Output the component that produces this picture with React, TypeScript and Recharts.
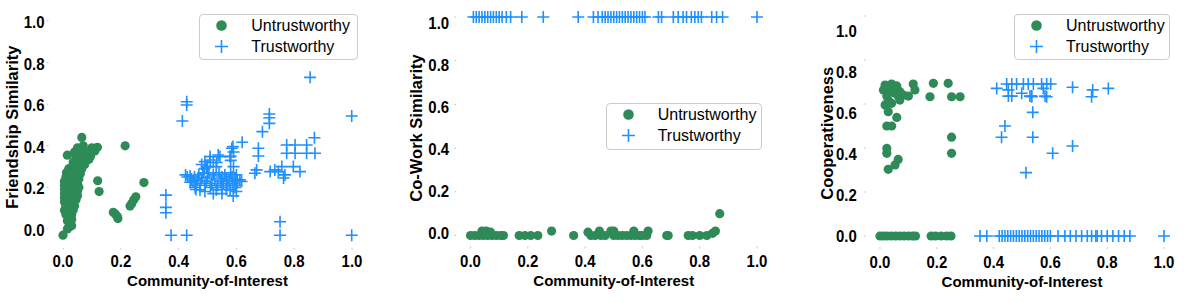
import { ScatterChart, Scatter, XAxis, YAxis, Legend } from "recharts";

const FONT = '"Liberation Sans", Arial, Helvetica, sans-serif';
const GREEN = "#2e8b57";
const BLUE = "#1e90ff";

const seriesNames = ["Untrustworthy", "Trustworthy"];
const axisTicks = [0, 0.2, 0.4, 0.6, 0.8, 1.0];
const xTitle = "Community-of-Interest";

// Friendship similarity vs community-of-interest
const friendshipUntrustworthy: [number, number][] = [
  [0.0, -0.03], [0.015, 0.0], [0.03, 0.015], [0.02, 0.01], [0.025, 0.03], [0.015, 0.04],
  [0.03, 0.045], [0.02, 0.06], [0.01, 0.07], [0.03, 0.07], [0.005, 0.09], [0.02, 0.09],
  [0.035, 0.09], [0.01, 0.11], [0.025, 0.11], [0.04, 0.11], [0.005, 0.13], [0.02, 0.13],
  [0.035, 0.13], [0.045, 0.14], [0.005, 0.15], [0.02, 0.15], [0.035, 0.155], [0.05, 0.16],
  [0.005, 0.17], [0.02, 0.17], [0.035, 0.175], [0.05, 0.18], [0.005, 0.19], [0.02, 0.19],
  [0.04, 0.195], [0.055, 0.2], [0.005, 0.21], [0.02, 0.21], [0.035, 0.215], [0.05, 0.22],
  [0.005, 0.23], [0.02, 0.235], [0.04, 0.235], [0.055, 0.24], [0.01, 0.25], [0.025, 0.255],
  [0.045, 0.26], [0.06, 0.265], [0.012, 0.27], [0.03, 0.275], [0.05, 0.28], [0.065, 0.29],
  [0.02, 0.29], [0.04, 0.3], [0.06, 0.305], [0.075, 0.31], [0.035, 0.32], [0.055, 0.325],
  [0.07, 0.33], [0.085, 0.335], [0.015, 0.355], [0.045, 0.345], [0.065, 0.35], [0.08, 0.355],
  [0.095, 0.35], [0.04, 0.37], [0.06, 0.375], [0.085, 0.37], [0.05, 0.39], [0.07, 0.4],
  [0.065, 0.44], [0.1, 0.39], [0.11, 0.375], [0.09, 0.335],
  [0.119, 0.393], [0.12, 0.232], [0.125, 0.18], [0.215, 0.4], [0.28, 0.223],
  [0.174, 0.08], [0.181, 0.072], [0.188, 0.06], [0.19, 0.05],
  [0.232, 0.11], [0.238, 0.123], [0.245, 0.14], [0.252, 0.155],
];

const friendshipTrustworthy: [number, number][] = [
  [0.428, 0.612], [0.428, 0.596], [0.413, 0.519], [0.356, 0.163], [0.356, 0.104], [0.356, 0.078],
  [0.374, -0.03], [0.428, -0.03], [0.751, 0.035], [0.751, -0.03], [0.999, -0.03], [0.999, 0.543],
  [0.714, 0.553], [0.714, 0.535], [0.714, 0.508], [0.69, 0.468], [0.87, 0.439], [0.872, 0.364],
  [0.843, 0.364], [0.843, 0.404], [0.774, 0.404], [0.803, 0.404], [0.774, 0.364], [0.803, 0.364],
  [0.62, 0.417], [0.676, 0.388], [0.676, 0.351], [0.67, 0.284], [0.664, 0.268], [0.733, 0.284],
  [0.757, 0.3], [0.797, 0.3], [0.82, 0.276], [0.768, 0.26], [0.763, 0.245], [0.745, 0.276],
  [0.717, 0.276], [0.855, 0.729],
  [0.424, 0.26], [0.43, 0.25], [0.44, 0.255], [0.445, 0.24], [0.45, 0.23], [0.455, 0.25],
  [0.44, 0.225], [0.46, 0.21], [0.457, 0.2], [0.465, 0.235], [0.47, 0.26], [0.475, 0.22],
  [0.474, 0.188], [0.48, 0.245], [0.485, 0.27], [0.49, 0.21], [0.491, 0.18], [0.495, 0.23],
  [0.5, 0.25], [0.49, 0.29], [0.491, 0.324], [0.5, 0.3], [0.505, 0.27], [0.51, 0.2],
  [0.509, 0.348], [0.515, 0.22], [0.52, 0.32], [0.52, 0.26], [0.525, 0.24], [0.53, 0.188],
  [0.53, 0.3], [0.537, 0.356], [0.535, 0.21], [0.54, 0.27], [0.545, 0.23], [0.55, 0.25],
  [0.55, 0.2], [0.555, 0.22], [0.56, 0.26], [0.565, 0.19], [0.565, 0.24], [0.57, 0.21],
  [0.575, 0.23], [0.578, 0.188], [0.58, 0.27], [0.58, 0.33], [0.584, 0.388], [0.585, 0.25],
  [0.588, 0.22], [0.589, 0.159], [0.59, 0.37], [0.59, 0.3], [0.595, 0.2], [0.595, 0.24],
  [0.6, 0.26], [0.6, 0.21], [0.603, 0.23], [0.612, 0.236], [0.618, 0.228], [0.578, 0.348],
  [0.588, 0.396], [0.543, 0.348], [0.532, 0.32], [0.509, 0.332], [0.497, 0.3], [0.484, 0.27],
  [0.55, 0.17], [0.52, 0.17], [0.46, 0.19], [0.6, 0.18], [0.58, 0.35], [0.48, 0.31],
];

// Co-work similarity vs community-of-interest
const coworkUntrustworthy: [number, number][] = [
  [0.0, 0], [0.015, 0], [0.03, 0], [0.045, 0], [0.06, 0], [0.075, 0], [0.09, 0], [0.105, 0],
  [0.115, 0], [0.04, 0.02], [0.055, 0.02], [0.07, 0.015], [0.17, 0], [0.19, 0], [0.21, 0],
  [0.235, 0], [0.283, 0.02], [0.36, 0], [0.41, 0.015], [0.42, 0], [0.435, 0], [0.45, 0.02],
  [0.455, 0], [0.47, 0], [0.49, 0.02], [0.5, 0.02], [0.5, 0], [0.515, 0], [0.53, 0],
  [0.545, 0], [0.56, 0], [0.57, 0.02], [0.575, 0], [0.59, 0], [0.6, 0], [0.615, 0],
  [0.62, 0.02], [0.685, 0], [0.69, 0], [0.76, 0], [0.775, 0], [0.8, 0], [0.825, 0],
  [0.845, 0.01], [0.855, 0.02], [0.87, 0.1],
];

const coworkTrustworthy: [number, number][] = [
  [0.01, 1], [0.02, 1], [0.03, 1], [0.04, 1], [0.05, 1], [0.06, 1], [0.07, 1], [0.08, 1],
  [0.09, 1], [0.1, 1], [0.11, 1], [0.125, 1], [0.14, 1], [0.179, 1], [0.254, 1], [0.376, 1],
  [0.429, 1], [0.445, 1], [0.46, 1], [0.47, 1], [0.48, 1], [0.49, 1], [0.5, 1], [0.51, 1],
  [0.52, 1], [0.53, 1], [0.54, 1], [0.55, 1], [0.56, 1], [0.57, 1], [0.58, 1], [0.59, 1],
  [0.6, 1], [0.609, 1], [0.656, 1], [0.667, 1], [0.708, 1], [0.725, 1], [0.742, 1], [0.754, 1],
  [0.771, 1], [0.783, 1], [0.795, 1], [0.806, 1], [0.842, 1], [0.859, 1], [0.88, 1], [1.0, 1],
];

// Cooperativeness vs community-of-interest
const coopUntrustworthy: [number, number][] = [
  [0.018, 0.686], [0.041, 0.691], [0.059, 0.682], [0.012, 0.664], [0.035, 0.656], [0.053, 0.649],
  [0.07, 0.656], [0.024, 0.636], [0.064, 0.636], [0.082, 0.641], [0.1, 0.636], [0.117, 0.691],
  [0.123, 0.664], [0.188, 0.694], [0.176, 0.633], [0.24, 0.694], [0.252, 0.633], [0.282, 0.633],
  [0.018, 0.595], [0.041, 0.603], [0.029, 0.565], [0.059, 0.539], [0.024, 0.5], [0.041, 0.5],
  [0.029, 0.618], [0.07, 0.618], [0.252, 0.449], [0.252, 0.376], [0.024, 0.398], [0.024, 0.376],
  [0.064, 0.348], [0.053, 0.323], [0.029, 0.303], [0.047, 0.67], [0.03, 0.675],
  [0.0, 0], [0.012, 0], [0.025, 0], [0.04, 0], [0.055, 0], [0.07, 0], [0.085, 0], [0.1, 0],
  [0.115, 0], [0.125, 0], [0.18, 0], [0.195, 0], [0.215, 0], [0.235, 0], [0.25, 0],
];

const coopTrustworthy: [number, number][] = [
  [0.411, 0.671], [0.446, 0.691], [0.464, 0.691], [0.481, 0.691], [0.505, 0.691], [0.522, 0.691],
  [0.54, 0.691], [0.569, 0.691], [0.587, 0.691], [0.601, 0.691], [0.452, 0.664], [0.452, 0.636],
  [0.464, 0.636], [0.499, 0.649], [0.528, 0.636], [0.534, 0.636], [0.581, 0.636], [0.575, 0.671],
  [0.538, 0.562], [0.44, 0.5], [0.428, 0.449], [0.538, 0.449], [0.608, 0.376], [0.514, 0.288],
  [0.678, 0.676], [0.678, 0.409], [0.749, 0.664], [0.745, 0.633], [0.804, 0.671], [0.587, 0.633],
  [0.534, 0.633],
  [0.352, 0], [0.376, 0], [0.42, 0], [0.43, 0], [0.44, 0], [0.45, 0], [0.46, 0], [0.47, 0],
  [0.48, 0], [0.49, 0], [0.5, 0], [0.51, 0], [0.52, 0], [0.53, 0], [0.54, 0], [0.55, 0],
  [0.56, 0], [0.57, 0], [0.58, 0], [0.59, 0], [0.6, 0], [0.627, 0], [0.651, 0], [0.67, 0],
  [0.69, 0], [0.71, 0], [0.73, 0], [0.745, 0], [0.76, 0], [0.765, 0], [0.78, 0], [0.8, 0],
  [0.82, 0], [0.84, 0], [0.86, 0], [0.88, 0], [1.0, 0],
];

const toPoints = (arr: [number, number][]) => arr.map(([x, y]) => ({ x, y }));

const Dot = (p: any) => <circle cx={p.cx} cy={p.cy} r={4.6} fill={GREEN} />;
const Plus = (p: any) => (
  <path
    d={`M${p.cx - 6},${p.cy}H${p.cx + 6}M${p.cx},${p.cy - 6}V${p.cy + 6}`}
    stroke={BLUE}
    strokeWidth={1.6}
    fill="none"
  />
);

const tickText = { fontSize: 15, fontWeight: 700, fill: "#000", fontFamily: FONT };
// the source figure is stretched a little vertically, so its glyphs run tall
const TALL = "scale(1,1.1)";

// y labels in the source figure sit slightly off their tick marks
function YTick(props: any) {
  const { x, y, payload, a, b } = props;
  return (
    <g transform={`translate(${x},${y + a + b * payload.value})`}>
      <text transform={TALL} dy="0.36em" textAnchor="end" {...tickText}>
        {payload.value.toFixed(1)}
      </text>
    </g>
  );
}

function XTick(props: any) {
  const { x, y, payload } = props;
  return (
    <g transform={`translate(${x},${y})`}>
      <text transform={TALL} dy="0.36em" textAnchor="middle" {...tickText}>
        {payload.value.toFixed(1)}
      </text>
    </g>
  );
}

function LegendBox() {
  return (
    <div
      style={{
        width: "100%",
        height: "100%",
        boxSizing: "border-box",
        border: "1px solid #cccccc",
        borderRadius: 4,
        background: "rgba(255,255,255,0.8)",
        fontFamily: FONT,
        fontSize: 16,
        color: "#000",
      }}
    >
      {seriesNames.map((name, i) => (
        <div key={name} style={{ display: "flex", alignItems: "center", height: 21 }}>
          <svg width={51} height={21} style={{ flex: "none" }}>
            {i === 0 ? (
              <circle cx={21.5} cy={10.5} r={5.3} fill={GREEN} />
            ) : (
              <path d="M15,10.5H28M21.5,4V17" stroke={BLUE} strokeWidth={1.6} />
            )}
          </svg>
          <span>{name}</span>
        </div>
      ))}
    </div>
  );
}

const tickLine = { stroke: "#c8c8c8" };
const titleStyle = { fontSize: 15, fontWeight: 700, fill: "#000", fontFamily: FONT };

interface PanelProps {
  left: number;
  width: number;
  margin: { top: number; right: number; bottom: number; left: number };
  yMin: number;
  yWidth: number;
  yTickMargin: number;
  xTickMargin: number;
  driftA: number;
  driftB: number;
  yTitle: string;
  yTitleDx: number;
  yTitleDy: number;
  xTitleDy: number;
  legend: { left: number; top: number; width: number; height: number };
  untrust: [number, number][];
  trust: [number, number][];
}

function Panel(p: PanelProps) {
  return (
    <div style={{ position: "absolute", left: p.left, top: 0 }}>
      <ScatterChart width={p.width} height={302} margin={p.margin}>
        <XAxis
          type="number"
          dataKey="x"
          domain={[-0.05, 1.05]}
          allowDataOverflow
          ticks={axisTicks}
          interval={0}
          axisLine={false}
          tickLine={tickLine}
          tickSize={2}
          tickMargin={p.xTickMargin}
          height={50}
          tick={(t: any) => <XTick {...t} />}
          label={{ value: xTitle, position: "center", dy: p.xTitleDy, ...titleStyle }}
        />
        <YAxis
          type="number"
          dataKey="y"
          domain={[p.yMin, 1.05]}
          allowDataOverflow
          ticks={axisTicks}
          interval={0}
          width={p.yWidth}
          axisLine={false}
          tickLine={tickLine}
          tickSize={2}
          tickMargin={p.yTickMargin}
          tick={(t: any) => <YTick {...t} a={p.driftA} b={p.driftB} />}
          label={{
            value: p.yTitle,
            angle: -90,
            position: "center",
            dx: p.yTitleDx,
            dy: p.yTitleDy,
            ...titleStyle,
            fontSize: 16.5,
          }}
        />
        <Scatter
          name={seriesNames[0]}
          data={toPoints(p.untrust)}
          fill={GREEN}
          shape={Dot}
          isAnimationActive={false}
        />
        <Scatter
          name={seriesNames[1]}
          data={toPoints(p.trust)}
          fill={BLUE}
          shape={Plus}
          isAnimationActive={false}
        />
        <Legend
          layout="vertical"
          align="center"
          verticalAlign="middle"
          wrapperStyle={{ ...p.legend }}
          content={() => <LegendBox />}
        />
      </ScatterChart>
    </div>
  );
}

export default function App() {
  return (
    <div
      style={{
        position: "absolute",
        left: 0,
        top: 0,
        width: 1187,
        height: 302,
        background: "#fff",
        overflow: "hidden",
      }}
    >
      <Panel
        left={0}
        width={380}
        margin={{ top: 10.6, right: 13.55, bottom: 4.3, left: 0 }}
        yMin={-0.09}
        yWidth={48.55}
        yTickMargin={2}
        xTickMargin={11.3}
        driftA={1}
        driftB={0}
        yTitle="Friendship Similarity"
        yTitleDx={-12}
        yTitleDy={-2}
        xTitleDy={8.3}
        legend={{ left: 199.3, top: 14, width: 159, height: 46 }}
        untrust={friendshipUntrustworthy}
        trust={friendshipTrustworthy}
      />
      <Panel
        left={400}
        width={380}
        margin={{ top: 6.1, right: 8.7, bottom: 5.6, left: 0 }}
        yMin={-0.05}
        yWidth={56.2}
        yTickMargin={5}
        xTickMargin={13.1}
        driftA={-2}
        driftB={8}
        yTitle="Co-Work Similarity"
        yTitleDx={-12.1}
        yTitleDy={1.75}
        xTitleDy={9.6}
        legend={{ left: 205.7, top: 103.3, width: 156.6, height: 46.7 }}
        untrust={coworkUntrustworthy}
        trust={coworkTrustworthy}
      />
      <Panel
        left={800}
        width={387}
        margin={{ top: 5, right: 8.8, bottom: 5, left: 0 }}
        yMin={-0.05}
        yWidth={65.8}
        yTickMargin={7}
        xTickMargin={13.5}
        driftA={0.5}
        driftB={14.3}
        yTitle="Cooperativeness"
        yTitleDx={-6.2}
        yTitleDy={7.3}
        xTitleDy={10}
        legend={{ left: 214, top: 14, width: 156, height: 46 }}
        untrust={coopUntrustworthy}
        trust={coopTrustworthy}
      />
    </div>
  );
}
